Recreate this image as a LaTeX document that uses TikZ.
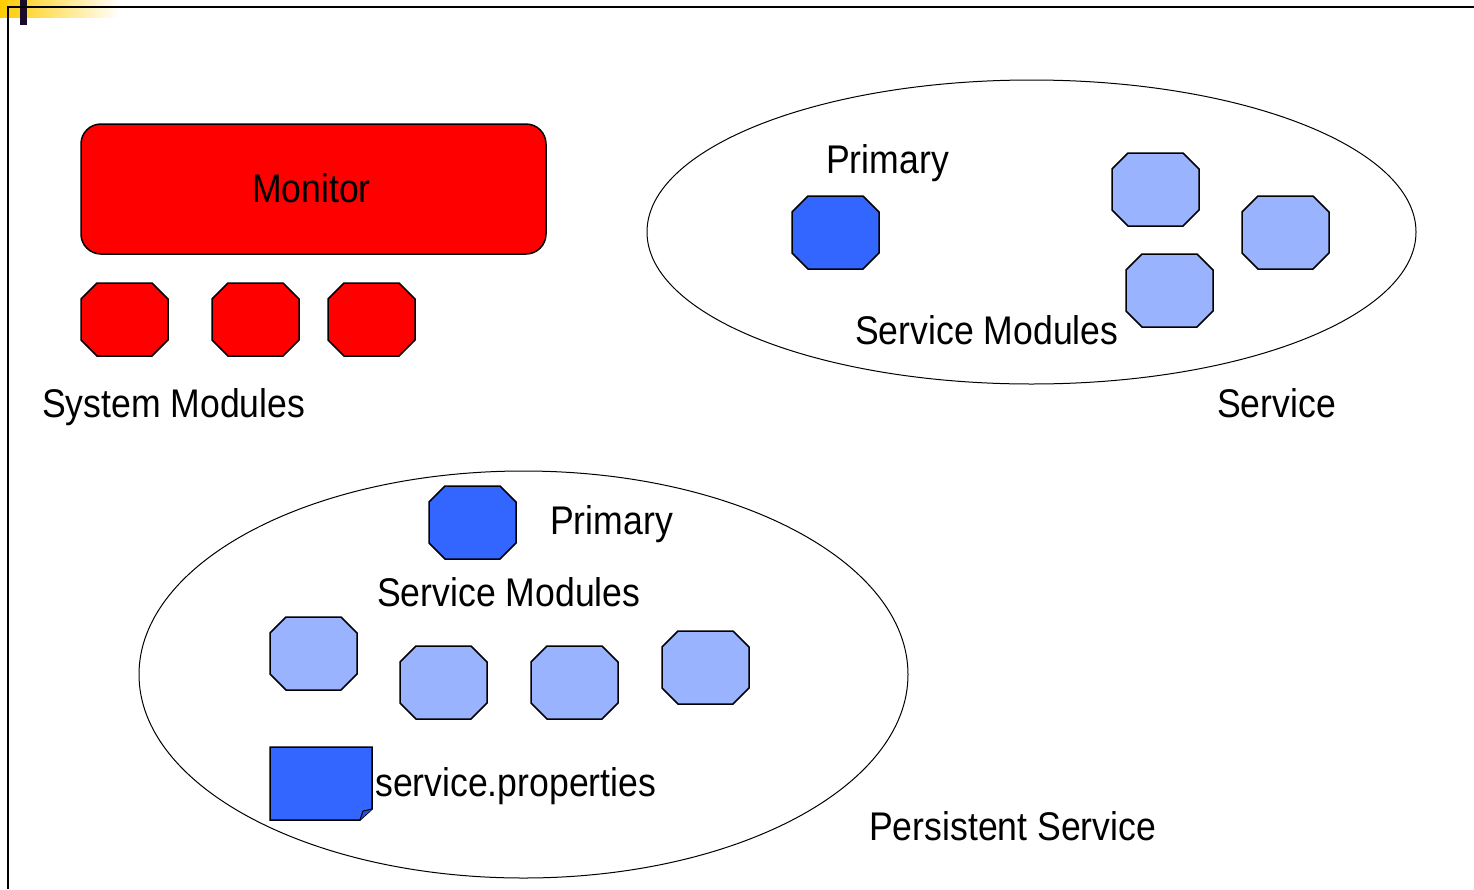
\documentclass[tikz,border=0pt]{standalone}
\usepackage{fontspec}
\setmainfont{Liberation Sans}[FakeStretch=0.89]
\usetikzlibrary{shapes.geometric,calc}

\definecolor{modred}{RGB}{255,0,0}
\definecolor{primblue}{RGB}{51,102,255}
\definecolor{modblue}{RGB}{153,179,255}
\definecolor{foldblue}{RGB}{38,82,214}
\definecolor{baryellow}{RGB}{255,204,0}
\definecolor{bardark}{RGB}{26,12,40}

\tikzset{
  octline/.style={draw=black, line width=1.5pt, line join=miter},
  sysmod/.style={octline, fill=modred},
  primmod/.style={octline, fill=primblue},
  svcmod/.style={octline, fill=modblue},
  label/.style={inner sep=0pt, anchor=base west, font=\fontsize{40}{48}\selectfont},
  region/.style={draw=black, line width=1pt, ellipse, inner sep=0pt},
}

% octagonal module: name, centre x, centre y, style
\newcommand\modoct[4]{%
  \coordinate (#1) at (#2,#3);
  \draw[#4] ($(#1)+(-27.5,-36.5)$) -- ++(55,0) -- ++(16,16) -- ++(0,41)
    -- ++(-16,16) -- ++(-55,0) -- ++(-16,-16) -- ++(0,-41) -- cycle;}

\begin{document}
\begin{tikzpicture}[x=1pt, y=-1pt]
  \useasboundingbox (0,0) rectangle (1474,889);
  \fill[white] (0,0) rectangle (1474,889);

  % slide header accent and frame
  \shade[left color=baryellow, right color=white] (0,0) rectangle (120,17);
  \fill[bardark] (20,0) rectangle (27,25);
  \draw[line width=2pt] (8,889) -- (8,7) -- (1474,7);

  % monitor and system modules
  \node[draw=black, line width=1.5pt, fill=modred, rounded corners=20pt,
        minimum width=465pt, minimum height=130pt, inner sep=0pt]
        (monitor) at (313.5,189) {};
  \node[inner sep=0pt, anchor=base, font=\fontsize{40}{48}\selectfont]
        (monitortxt) at (311.5,202) {Monitor};
  \modoct{sys1}{124.5}{319.5}{sysmod}
  \modoct{sys2}{255.5}{319.5}{sysmod}
  \modoct{sys3}{371.5}{319.5}{sysmod}
  \node[label] (syslbl) at (42,417) {System Modules};

  % service
  \node[region, minimum width=769pt, minimum height=304pt] (service) at (1031.5,232) {};
  \node[label] (svcprim) at (826,173) {Primary};
  \modoct{sp}{835.5}{232.5}{primmod}
  \modoct{sm1}{1155.5}{189.5}{svcmod}
  \modoct{sm2}{1285.5}{232.5}{svcmod}
  \modoct{sm3}{1169.5}{290.5}{svcmod}
  \node[label] (svcmods) at (855,344) {Service Modules};
  \node[label] (svclbl) at (1217,417) {Service};

  % persistent service
  \node[region, minimum width=769pt, minimum height=407pt] (pservice) at (523.5,674.5) {};
  \modoct{pp}{472.5}{522.5}{primmod}
  \node[label] (pprim) at (550,534) {Primary};
  \node[label] (pmods) at (377,606) {Service Modules};
  \modoct{pm1}{313.5}{653.5}{svcmod}
  \modoct{pm2}{443.5}{682.5}{svcmod}
  \modoct{pm3}{574.5}{682.5}{svcmod}
  \modoct{pm4}{705.5}{667.5}{svcmod}

  % properties document with folded corner
  \coordinate (doc) at (270,747);
  \draw[line width=1.5pt, fill=primblue, line join=miter]
    (doc) -- ++(102,0) -- ++(0,62) -- ++(-12,11) -- ++(-90,0) -- cycle;
  \draw[line width=1pt, fill=foldblue, line join=round]
    ($(doc)+(90,73)$) -- ($(doc)+(93,64)$) -- ($(doc)+(102,62)$);
  \node[label] (props) at (375,796) {service.properties};
  \node[label] (plbl) at (869,840) {Persistent Service};
\end{tikzpicture}
\end{document}
